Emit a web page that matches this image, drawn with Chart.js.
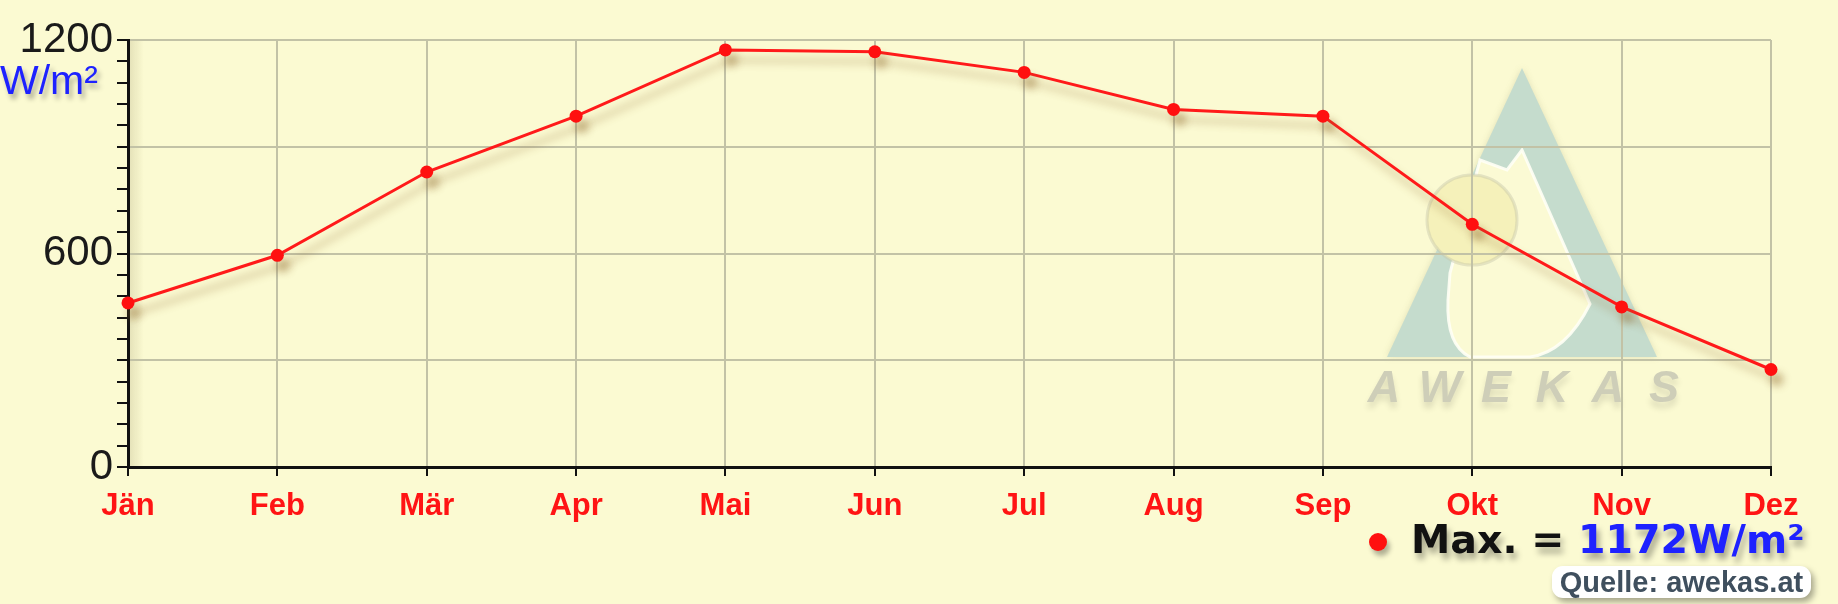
<!DOCTYPE html>
<html>
<head>
<meta charset="utf-8">
<title>Globalstrahlung Max.</title>
<script src="https://cdn.jsdelivr.net/npm/chart.js@4.4.1/dist/chart.umd.min.js"></script>
<style>
  html, body { margin: 0; padding: 0; background: #fbfad2; }
  #wrap { position: relative; width: 1838px; height: 604px; overflow: hidden;
          font-family: "Liberation Sans", Arial, sans-serif; }
  #chart { position: absolute; left: 0; top: 0; }
  .unit { position: absolute; left: 0px; top: 60px; font-size: 41px; line-height: 40px;
          color: #1e22ff; text-shadow: 3px 5px 5px rgba(0,0,0,0.3); }
  .dot { position: absolute; left: 1369px; top: 533px; width: 18px; height: 18px;
         border-radius: 50%; background: #ff1010; box-shadow: 3px 5px 5px rgba(0,0,0,0.3); }
  .legend { position: absolute; left: 1411px; top: 519px; white-space: nowrap;
            font-family: "DejaVu Sans", Verdana, sans-serif;
            font-weight: bold; font-size: 39.5px; line-height: 40px; color: #111;
            text-shadow: 3px 6px 6px rgba(0,0,0,0.35); }
  .legend .val { color: #1e22ff; }
  .source { position: absolute; left: 1552px; top: 566px; width: 259px; height: 32px;
            background: #fff; border-radius: 11px; text-align: center;
            font-weight: bold; font-size: 29px; line-height: 32px; color: #3f4f5e;
            box-shadow: 3px 4px 6px rgba(0,0,0,0.35); }
</style>
</head>
<body>
<div id="wrap">
  <canvas id="chart" width="1838" height="604"></canvas>
  <div class="unit" id="unit"></div>
  <div class="dot"></div>
  <div class="legend" id="legend"></div>
  <div class="source">Quelle: awekas.at</div>
</div>
<script>
// monthly max. solar radiation
const months = ['Jän', 'Feb', 'Mär', 'Apr', 'Mai', 'Jun', 'Jul', 'Aug', 'Sep', 'Okt', 'Nov', 'Dez'];
const radiation = [461, 595, 829, 986, 1172, 1167, 1109, 1005, 986, 682, 450, 274];
const yLabels = [0, 600, 1200];
const unit = 'W/m²';

const gridColor = 'rgb(194,194,166)';
const fontFamily = '"Liberation Sans", Arial, sans-serif';

document.getElementById('unit').textContent = unit;
document.getElementById('legend').innerHTML =
  'Max. = <span class="val">' + Math.max(...radiation) + unit + '</span>';

// drop shadow under the line
const lineShadow = {
  id: 'lineShadow',
  beforeDatasetsDraw(chart) {
    const c = chart.ctx;
    c.save();
    c.shadowColor = 'rgba(140,100,40,0.45)';
    c.shadowBlur = 9;
    c.shadowOffsetX = 6;
    c.shadowOffsetY = 10;
  },
  afterDatasetsDraw(chart) {
    chart.ctx.restore();
  }
};

// AWEKAS watermark behind the grid
const watermark = {
  id: 'watermark',
  beforeDraw(chart) {
    const c = chart.ctx;
    const ax = chart.chartArea.right - 249, ay = 68;   // apex of the logo
    c.save();
    c.fillStyle = 'rgb(197,220,205)';
    c.shadowColor = 'rgba(150,150,110,0.25)';
    c.shadowBlur = 6;
    c.beginPath();
    c.moveTo(ax, ay);
    c.lineTo(ax + 135, ay + 289);
    c.lineTo(ax - 135, ay + 289);
    c.closePath();
    c.fill();
    c.shadowColor = 'rgba(0,0,0,0)';

    // inner cut-out
    c.fillStyle = '#fbfad4';
    c.strokeStyle = 'rgba(255,255,245,0.9)';
    c.lineWidth = 3;
    c.beginPath();
    c.moveTo(ax - 42, ay + 92);
    c.lineTo(ax - 15, ay + 102);
    c.lineTo(ax, ay + 82);
    c.lineTo(ax + 68, ay + 236);
    c.quadraticCurveTo(ax + 44, ay + 284, ax + 8, ay + 289);
    c.lineTo(ax - 52, ay + 289);
    c.quadraticCurveTo(ax - 76, ay + 277, ax - 74, ay + 232);
    c.lineTo(ax - 72, ay + 205);
    c.closePath();
    c.fill();
    c.stroke();

    // sun
    c.beginPath();
    c.arc(ax - 50, ay + 152, 45, 0, Math.PI * 2);
    c.fillStyle = 'rgb(245,241,186)';
    c.fill();
    c.lineWidth = 3;
    c.strokeStyle = 'rgba(200,200,170,0.45)';
    c.stroke();

    // lettering
    c.font = 'italic bold 45px ' + fontFamily;
    c.textAlign = 'center';
    c.textBaseline = 'alphabetic';
    c.fillStyle = 'rgb(206,206,184)';
    c.shadowColor = 'rgba(0,0,0,0.12)';
    c.shadowBlur = 6;
    c.shadowOffsetY = 6;
    'AWEKAS'.split('').forEach((ch, i) => {
      c.fillText(ch, ax - 138 + i * 56, ay + 334);
    });
    c.restore();

    // soft shade along the y axis
    const g = c.createLinearGradient(chart.chartArea.left, 0, chart.chartArea.left + 16, 0);
    g.addColorStop(0, 'rgba(120,110,60,0.18)');
    g.addColorStop(1, 'rgba(120,110,60,0)');
    c.fillStyle = g;
    c.fillRect(chart.chartArea.left, chart.chartArea.top, 16, chart.chartArea.bottom - chart.chartArea.top);
  }
};

new Chart(document.getElementById('chart'), {
  type: 'line',
  data: {
    labels: months,
    datasets: [{
      label: 'Max.',
      data: radiation,
      borderColor: '#ff1a1a',
      backgroundColor: '#ff1010',
      borderWidth: 3,
      pointRadius: 6.5,
      pointBorderWidth: 0,
      tension: 0,
      clip: false
    }]
  },
  options: {
    responsive: false,
    animation: false,
    layout: { padding: { left: 0, right: 67, top: 40, bottom: 0 } },
    plugins: {
      legend: { display: false },
      tooltip: { enabled: false }
    },
    scales: {
      x: {
        grid: { color: gridColor, lineWidth: 2, tickColor: '#111', tickLength: 9, tickWidth: 2 },
        border: { color: '#111', width: 3 },
        ticks: {
          color: '#ff1414',
          font: { size: 31, weight: 'bold', family: fontFamily },
          padding: 12,
          maxRotation: 0,
          autoSkip: false
        },
        afterFit(scale) { scale.height = 137; }
      },
      y: {
        min: 0,
        max: 1200,
        grid: {
          color: ctx => (ctx.tick && ctx.tick.value % 300 === 0) ? gridColor : 'rgba(0,0,0,0)',
          lineWidth: 2,
          tickColor: '#111',
          tickLength: 11,
          tickWidth: 2
        },
        border: { color: '#111', width: 3 },
        ticks: {
          stepSize: 60,
          autoSkip: false,
          color: '#1a1a1a',
          font: { size: 42, family: fontFamily },
          padding: 4,
          labelOffset: 0,
          callback: v => yLabels.includes(v) ? v : ''
        },
        afterFit(scale) { scale.width = 128; }
      }
    }
  },
  plugins: [watermark, lineShadow]
});
</script>
</body>
</html>
